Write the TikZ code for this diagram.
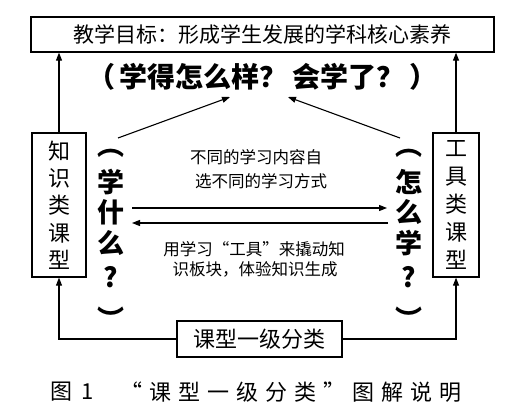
\documentclass[tikz,border=0pt]{standalone}
\usepackage{fontspec}
\newfontfamily\cjk{Noto Sans CJK SC}
\usetikzlibrary{arrows.meta}
\tikzset{
  box/.style={draw,line width=1.3pt,inner sep=0pt},
  conn/.style={line width=1.1pt,-{Triangle[length=8pt,width=6pt]}},
  midtxt/.style={inner sep=0pt,font=\cjk\fontsize{16.5}{16.5}\selectfont},
  coltxt/.style={inner sep=0pt,font=\cjk\bfseries\fontsize{27}{27}\selectfont},
  captxt/.style={inner sep=0pt,font=\cjk\fontsize{22}{22}\selectfont\addfontfeature{LetterSpace=18}},
}
\begin{document}
\begin{tikzpicture}[x=1pt,y=-1pt]
\useasboundingbox (0,0) rectangle (506,410);
\fill[white] (0,0) rectangle (506,410);
% top goal box
\node[box,minimum width=463pt,minimum height=35pt,font=\cjk\fontsize{21}{21}\selectfont] (goal) at (262.5,34.5) {教学目标：形成学生发展的学科核心素养};
\node[inner sep=0pt,font=\cjk\bfseries\fontsize{28}{28}\selectfont] (q) at (262,77) {（\,学得怎么样？\,会学了？\,）};
% side boxes
\node[box,minimum width=54pt,minimum height=144pt,align=center,font=\cjk\fontsize{22}{27.3}\selectfont] (kb) at (59,205) {知\\识\\类\\课\\型};
\node[box,minimum width=46pt,minimum height=144pt,align=center,font=\cjk\fontsize{22}{28.2}\selectfont] (tb) at (456,205) {工\\具\\类\\课\\型};
% vertical columns
\node[coltxt] (l1) at (111,153) {︵};
\node[coltxt] (l2) at (111,182) {学};
\node[coltxt] (l3) at (111,212) {什};
\node[coltxt] (l4) at (111,243) {么};
\node[coltxt] (l5) at (111,277) {?};
\node[coltxt] (l6) at (111,318) {︶};
\node[coltxt] (r1) at (409,153) {︵};
\node[coltxt] (r2) at (409,182) {怎};
\node[coltxt] (r3) at (409,212) {么};
\node[coltxt] (r4) at (409,243) {学};
\node[coltxt] (r5) at (409,277) {?};
\node[coltxt] (r6) at (409,318) {︶};
% middle texts
\node[midtxt] (m1) at (256,157) {不同的学习内容自};
\node[midtxt] (m2) at (261,181) {选不同的学习方式};
\node[midtxt] (m3) at (254,249.5) {用学习“工具”来撬动知};
\node[midtxt] (m4) at (255,269.5) {识板块，体验知识生成};
% bottom box
\node[box,minimum width=165pt,minimum height=36pt,font=\cjk\fontsize{22}{22}\selectfont] (cls) at (259.5,339) {课型一级分类};
% caption
\node[captxt,anchor=west] (cap1) at (50,392) {图 1};
\node[captxt,anchor=west,font=\cjk\fontsize{22}{22}\selectfont\addfontfeature{LetterSpace=32}] (cap2) at (120,392) {“课型一级分类”图解说明};
% coordinates
\coordinate (la) at (118,138);
\coordinate (lt) at (230,97);
\coordinate (ra) at (400,138);
\coordinate (rt) at (288,97);
\coordinate (h1a) at (132,208);
\coordinate (h1b) at (387,208);
\coordinate (h2a) at (388,223);
\coordinate (h2b) at (132,223);
% connectors
\draw[conn] (kb.north) -- (kb.north |- goal.south);
\draw[conn] (tb.north) -- (tb.north |- goal.south);
\draw[conn] (la) -- (lt);
\draw[conn] (ra) -- (rt);
\draw[conn] (h1a) -- (h1b);
\draw[conn] (h2a) -- (h2b);
\draw[conn] (cls.west) -| (kb.south);
\draw[conn] (cls.east) -| (tb.south);
\end{tikzpicture}
\end{document}
